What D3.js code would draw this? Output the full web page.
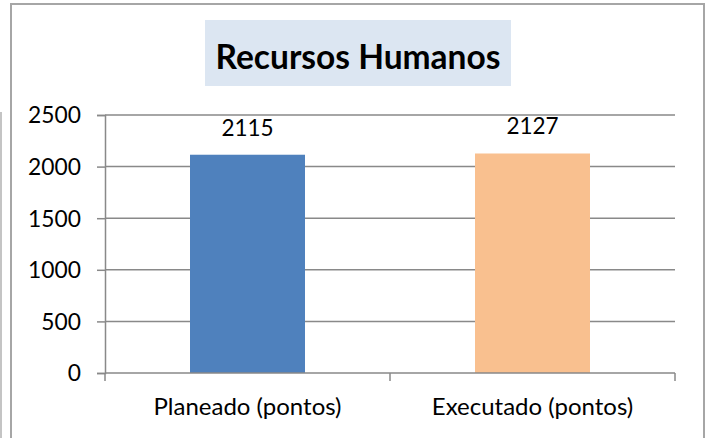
<!DOCTYPE html>
<html>
<head>
<meta charset="utf-8">
<script src="https://cdn.jsdelivr.net/npm/d3@7"></script>
<style>
  body { margin: 0; background: #fff; }
  svg { display: block; font-family: Lato, "Open Sans", sans-serif; }
</style>
</head>
<body>
<svg id="chart"></svg>
<script>
// Data
const categories = ["Planeado (pontos)", "Executado (pontos)"];
const values = [2115, 2127];
const barColors = ["#4f81bd", "#f9c08f"];
const yTicks = [0, 500, 1000, 1500, 2000, 2500];
const chartTitle = "Recursos Humanos";

const width = 716;
const height = 438;
const margin = { top: 115, right: 41, bottom: 65, left: 105 };

const svg = d3.select("#chart")
    .attr("width", width)
    .attr("height", height);

// Outer frame
svg.append("rect")
    .attr("x", 11).attr("y", 4)
    .attr("width", 693).attr("height", 460)
    .attr("fill", "#fff")
    .attr("stroke", "#a6a6a6")
    .attr("stroke-width", 2);

// stray line at the far left
svg.append("line")
    .attr("x1", 1).attr("x2", 1)
    .attr("y1", 112).attr("y2", height)
    .attr("stroke", "#b0b0b0")
    .attr("stroke-width", 1.5);

// Title
svg.append("rect")
    .attr("x", 205).attr("y", 20)
    .attr("width", 306).attr("height", 66)
    .attr("fill", "#dce6f2");

svg.append("text")
    .attr("x", 358).attr("y", 69)
    .attr("text-anchor", "middle")
    .attr("font-size", 33.5)
    .attr("font-weight", "bold")
    .attr("fill", "#000")
    .text(chartTitle);

// Scales
const x = d3.scaleBand()
    .domain(categories)
    .range([margin.left, width - margin.right])
    .paddingInner(0.5965)
    .paddingOuter(0.29825);

const y = d3.scaleLinear()
    .domain([0, 2500])
    .range([height - margin.bottom, margin.top]);

const plot = svg.append("g");

// Gridlines
plot.append("g")
    .selectAll("line")
    .data(yTicks.filter(d => d > 0))
    .join("line")
    .attr("x1", margin.left)
    .attr("x2", width - margin.right)
    .attr("y1", d => y(d))
    .attr("y2", d => y(d))
    .attr("stroke", "#898989")
    .attr("stroke-width", 1.5);

// Bars
plot.append("g")
    .selectAll("rect")
    .data(values)
    .join("rect")
    .attr("x", (d, i) => x(categories[i]))
    .attr("y", d => y(d))
    .attr("width", x.bandwidth())
    .attr("height", d => y(0) - y(d))
    .attr("fill", (d, i) => barColors[i]);

// Data labels
plot.append("g")
    .selectAll("text")
    .data(values)
    .join("text")
    .attr("x", (d, i) => x(categories[i]) + x.bandwidth() / 2)
    .attr("y", d => y(d) - 19)
    .attr("text-anchor", "middle")
    .attr("font-size", 22.5)
    .attr("fill", "#000")
    .text(d => d);

// Y axis
const yAxis = svg.append("g")
    .attr("transform", `translate(${margin.left},0)`)
    .call(d3.axisLeft(y).tickValues(yTicks).tickFormat(d3.format("d"))
        .tickSize(8).tickPadding(16));

yAxis.select(".domain")
    .attr("stroke", "#898989")
    .attr("stroke-width", 1.5);
yAxis.selectAll(".tick line")
    .attr("stroke", "#898989")
    .attr("stroke-width", 1.5);
yAxis.selectAll(".tick text")
    .attr("font-size", 22.8)
    .attr("font-family", "Lato, 'Open Sans', sans-serif")
    .attr("fill", "#000")
    .attr("dy", "0.35em");

// X axis
const xAxis = svg.append("g")
    .attr("transform", `translate(0,${y(0)})`);

xAxis.append("line")
    .attr("x1", margin.left)
    .attr("x2", width - margin.right)
    .attr("stroke", "#898989")
    .attr("stroke-width", 1.5);

const bounds = d3.range(categories.length + 1)
    .map(i => x.range()[0] + i * x.step());

xAxis.selectAll(".bound")
    .data(bounds)
    .join("line")
    .attr("class", "bound")
    .attr("x1", d => d).attr("x2", d => d)
    .attr("y1", 0).attr("y2", 8)
    .attr("stroke", "#898989")
    .attr("stroke-width", 1.5);

xAxis.selectAll(".cat")
    .data(categories)
    .join("text")
    .attr("class", "cat")
    .attr("x", d => x(d) + x.bandwidth() / 2)
    .attr("y", 42)
    .attr("text-anchor", "middle")
    .attr("font-size", 24)
    .attr("fill", "#000")
    .text(d => d);
</script>
</body>
</html>
